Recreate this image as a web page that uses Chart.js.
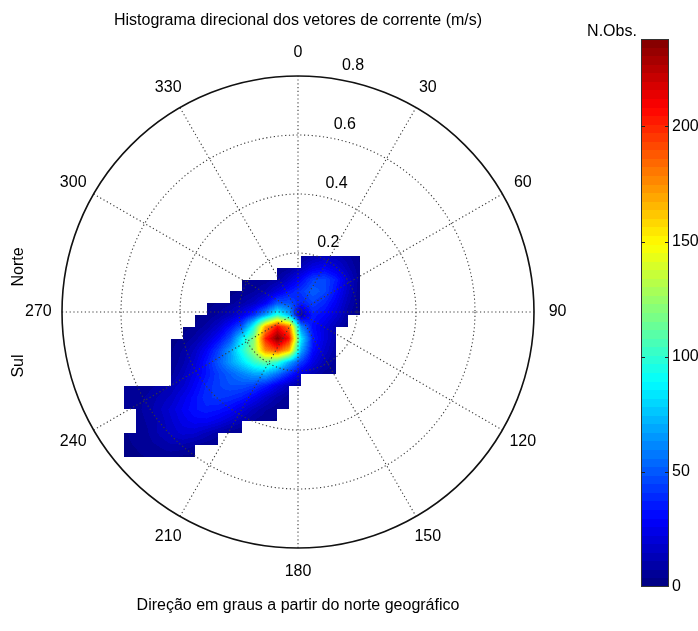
<!DOCTYPE html>
<html>
<head>
<meta charset="utf-8">
<script src="https://cdn.jsdelivr.net/npm/chart.js@4"></script>
<style>
  html, body { margin: 0; padding: 0; background: #fff; }
  #wrap { position: relative; width: 698px; height: 631px; overflow: hidden; background: #fff; }
  #wrap canvas { position: absolute; top: 0; }
  #polar { left: 0; }
  #cbar { left: 560px; }
</style>
</head>
<body>
<div id="wrap">
  <canvas id="polar" width="698" height="631" style="width:698px;height:631px"></canvas>
  <canvas id="cbar" width="138" height="631" style="width:138px;height:631px"></canvas>
</div>
<script>
// Current-vector histogram: counts on an east/north speed grid (m/s)
const _ = null;
const eastNodes = [-0.59, -0.55, -0.51, -0.47, -0.43, -0.39, -0.35, -0.31, -0.27, -0.23, -0.19,
                   -0.15, -0.11, -0.07, -0.03, 0.01, 0.05, 0.09, 0.13, 0.17, 0.21];
const northNodes = [0.19, 0.15, 0.11, 0.07, 0.03, -0.01, -0.05, -0.09, -0.13, -0.17, -0.21,
                    -0.25, -0.29, -0.33, -0.37, -0.41, -0.45, -0.49];
// number of observations per node (rows: north, top to bottom; columns: east, left to right)
const counts = [
  [_,_,_,_,_,_,_,_,_,_,_,_,_,_,_, 5,10,14,12, 8, 3],
  [_,_,_,_,_,_,_,_,_,_,_,_,_, 3, 6,14,24,28,22,12, 4],
  [_,_,_,_,_,_,_,_,_,_, 3, 4, 5, 8,18,30,44,46,36,18, 5],
  [_,_,_,_,_,_,_,_,_, 2, 4, 7,12,22,34,42,52,46,32,16, 4],
  [_,_,_,_,_,_,_, 2, 4, 6,10,16,28,50,48,36,44,38,26,12, 3],
  [_,_,_,_,_,_, 2, 4, 8,14,24,40,66,98,72,10,36,30,20, 8, 3],
  [_,_,_,_,_, 2, 4, 9,18,32,50,95,170,208,182,62,32,22,12, 4,_],
  [_,_,_,_, 2, 4, 9,18,30,48,85,120,202,238,206,86,36,22,10,_,_],
  [_,_,_,_, 3, 8,16,28,44,66,95,125,176,192,166,70,32,18, 8,_,_],
  [_,_,_,_, 4,10,20,34,50,66,82,100,112,100,70,44,24,12, 5,_,_],
  [_,_,_,_, 6,14,24,34,44,52,60,68,70,56,38,22,12, 6, 3,_,_],
  [ 4, 5, 6, 8,12,18,28,38,44,48,48,44,36,24,14, 6,_,_,_,_,_],
  [ 5, 6, 8,12,16,24,32,40,42,40,36,28,18,10, 5,_,_,_,_,_,_],
  [ 4, 6, 9,14,20,27,33,36,34,30,22,14, 8, 5, 3,_,_,_,_,_,_],
  [_, 5, 8,12,18,24,28,28,24,18,12, 7, 4, 3,_,_,_,_,_,_,_],
  [ 3, 5, 7,12,16,20,19,14, 9, 5, 3,_,_,_,_,_,_,_,_,_,_],
  [ 3, 4, 6, 8,11,11, 8, 5, 3,_,_,_,_,_,_,_,_,_,_,_,_],
  [ 2, 3, 4, 5, 5, 3, 2,_,_,_,_,_,_,_,_,_,_,_,_,_,_]
];
const countMax = 238;
const colorTicks = [0, 50, 100, 150, 200];
const radiusTicks = [0.2, 0.4, 0.6, 0.8];
const angleTicks = [0, 30, 60, 90, 120, 150, 180, 210, 240, 270, 300, 330];
const rMax = 0.8;

const FONT = '"Liberation Sans", Arial, Helvetica, sans-serif';
const titleText = 'Histograma direcional dos vetores de corrente (m/s)';
const xTitleText = 'Direção em graus a partir do norte geográfico';

// 64-level jet colormap
function jet(t) {
  t = Math.min(1, Math.max(0, t));
  const k = Math.min(63, Math.floor(t * 64));
  const q = (k + 0.5) / 64;
  const c = v => Math.round(255 * Math.min(1, Math.max(0, v)));
  return [c(1.5 - Math.abs(4 * q - 3)), c(1.5 - Math.abs(4 * q - 2)), c(1.5 - Math.abs(4 * q - 1))];
}

// smooth (bilinear) shading of the count grid, only where all four corners hold data
const heatLayer = {
  id: 'heatLayer',
  beforeDatasetsDraw(chart) {
    const { ctx, chartArea: a, scales: { x, y } } = chart;
    const w = Math.ceil(a.right - a.left), h = Math.ceil(a.bottom - a.top);
    const off = document.createElement('canvas');
    off.width = w; off.height = h;
    const octx = off.getContext('2d');
    const img = octx.createImageData(w, h);
    const d = img.data;
    for (let r = 0; r < northNodes.length - 1; r++) {
      for (let i = 0; i < eastNodes.length - 1; i++) {
        const v00 = counts[r][i], v01 = counts[r][i + 1];
        const v10 = counts[r + 1][i], v11 = counts[r + 1][i + 1];
        if (v00 === null || v01 === null || v10 === null || v11 === null) continue;
        const x0 = x.getPixelForValue(eastNodes[i]) - a.left;
        const x1 = x.getPixelForValue(eastNodes[i + 1]) - a.left;
        const y0 = y.getPixelForValue(northNodes[r]) - a.top;
        const y1 = y.getPixelForValue(northNodes[r + 1]) - a.top;
        for (let py = Math.round(y0); py < Math.round(y1); py++) {
          if (py < 0 || py >= h) continue;
          const v = Math.min(1, Math.max(0, (py + 0.5 - y0) / (y1 - y0)));
          for (let px = Math.round(x0); px < Math.round(x1); px++) {
            if (px < 0 || px >= w) continue;
            const u = Math.min(1, Math.max(0, (px + 0.5 - x0) / (x1 - x0)));
            const val = (1 - v) * ((1 - u) * v00 + u * v01) + v * ((1 - u) * v10 + u * v11);
            const col = jet(val / countMax);
            const o = (py * w + px) * 4;
            d[o] = col[0]; d[o + 1] = col[1]; d[o + 2] = col[2]; d[o + 3] = 255;
          }
        }
      }
    }
    octx.putImageData(img, 0, 0);
    ctx.drawImage(off, a.left, a.top);
  }
};

// compass grid: dotted rings and spokes, solid outer circle
const polarGrid = {
  id: 'polarGrid',
  afterDatasetsDraw(chart) {
    const { ctx, scales: { x, y } } = chart;
    const cx = x.getPixelForValue(0), cy = y.getPixelForValue(0);
    const rp = v => x.getPixelForValue(v) - cx;
    ctx.save();
    ctx.strokeStyle = '#3a3a3a';
    ctx.lineWidth = 1.1;
    ctx.setLineDash([1.2, 2.6]);
    radiusTicks.slice(0, -1).forEach(rv => {
      ctx.beginPath();
      ctx.arc(cx, cy, rp(rv), 0, Math.PI * 2);
      ctx.stroke();
    });
    for (let a = 0; a < 180; a += 30) {
      const t = a * Math.PI / 180;
      const dx = Math.sin(t) * rMax, dy = Math.cos(t) * rMax;
      ctx.beginPath();
      ctx.moveTo(x.getPixelForValue(-dx), y.getPixelForValue(-dy));
      ctx.lineTo(x.getPixelForValue(dx), y.getPixelForValue(dy));
      ctx.stroke();
    }
    ctx.setLineDash([]);
    ctx.strokeStyle = '#111';
    ctx.lineWidth = 1.6;
    ctx.beginPath();
    ctx.arc(cx, cy, rp(rMax), 0, Math.PI * 2);
    ctx.stroke();
    ctx.restore();
  }
};

// direction labels, speed labels, titles
const polarText = {
  id: 'polarText',
  afterDraw(chart) {
    const { ctx, scales: { x, y } } = chart;
    const cx = x.getPixelForValue(0), cy = y.getPixelForValue(0);
    const rp = v => x.getPixelForValue(v) - cx;
    ctx.save();
    ctx.fillStyle = '#000';
    ctx.font = '16px ' + FONT;
    ctx.textAlign = 'center';
    ctx.textBaseline = 'middle';
    angleTicks.forEach(a => {
      const t = a * Math.PI / 180;
      const r = rMax * 1.1;
      ctx.fillText(String(a), x.getPixelForValue(Math.sin(t) * r), y.getPixelForValue(Math.cos(t) * r));
    });
    radiusTicks.forEach(rv => {
      const p = rp(rv);
      ctx.fillText(rv.toFixed(1), cx + 22 + 0.14 * p, cy - p - 10);
    });
    ctx.fillText(titleText, cx, 21);
    ctx.fillText(xTitleText, cx, 606);
    ctx.save();
    ctx.translate(19, 267);
    ctx.rotate(-Math.PI / 2);
    ctx.fillText('Norte', 0, 0);
    ctx.restore();
    ctx.save();
    ctx.translate(19, 366);
    ctx.rotate(-Math.PI / 2);
    ctx.fillText('Sul', 0, 0);
    ctx.restore();
    ctx.restore();
  }
};

new Chart(document.getElementById('polar'), {
  type: 'scatter',
  data: { datasets: [] },
  options: {
    responsive: false,
    animation: false,
    events: [],
    layout: { padding: { left: 62, right: 164, top: 76, bottom: 83 } },
    scales: {
      x: { type: 'linear', min: -rMax, max: rMax, display: false },
      y: { type: 'linear', min: -rMax, max: rMax, display: false }
    },
    plugins: { legend: { display: false }, tooltip: { enabled: false } }
  },
  plugins: [heatLayer, polarGrid, polarText]
});

// colour scale bar
const colorbarLayer = {
  id: 'colorbarLayer',
  beforeDatasetsDraw(chart) {
    const { ctx, chartArea: a, scales: { y } } = chart;
    ctx.save();
    for (let py = Math.floor(a.top); py < Math.ceil(a.bottom); py++) {
      const val = y.getValueForPixel(py + 0.5);
      const c = jet(val / countMax);
      ctx.fillStyle = `rgb(${c[0]},${c[1]},${c[2]})`;
      ctx.fillRect(a.left, py, a.right - a.left, 1);
    }
    ctx.strokeStyle = '#333';
    ctx.lineWidth = 1;
    ctx.strokeRect(a.left + 0.5, a.top + 0.5, a.right - a.left - 1, a.bottom - a.top - 1);
    ctx.strokeStyle = '#222';
    colorTicks.slice(1).forEach(v => {
      const py = Math.round(y.getPixelForValue(v)) + 0.5;
      ctx.beginPath();
      ctx.moveTo(a.left, py); ctx.lineTo(a.left + 4, py);
      ctx.moveTo(a.right - 4, py); ctx.lineTo(a.right, py);
      ctx.stroke();
    });
    ctx.fillStyle = '#000';
    ctx.font = '16px ' + FONT;
    ctx.textAlign = 'center';
    ctx.textBaseline = 'middle';
    ctx.fillText('N.Obs.', 52, 32);
    ctx.restore();
  }
};

new Chart(document.getElementById('cbar'), {
  type: 'scatter',
  data: { datasets: [] },
  options: {
    responsive: false,
    animation: false,
    events: [],
    layout: { padding: { left: 81, right: 0, top: 39, bottom: 44 } },
    scales: {
      x: { type: 'linear', min: 0, max: 1, display: false },
      y: {
        type: 'linear', position: 'right', min: 0, max: countMax,
        afterBuildTicks: s => { s.ticks = colorTicks.map(v => ({ value: v })); },
        afterFit: s => { s.width = 29; },
        ticks: { color: '#000', padding: 3, font: { family: FONT, size: 16 } },
        grid: { display: false, drawTicks: false },
        border: { display: false }
      }
    },
    plugins: { legend: { display: false }, tooltip: { enabled: false } }
  },
  plugins: [colorbarLayer]
});
</script>
</body>
</html>
